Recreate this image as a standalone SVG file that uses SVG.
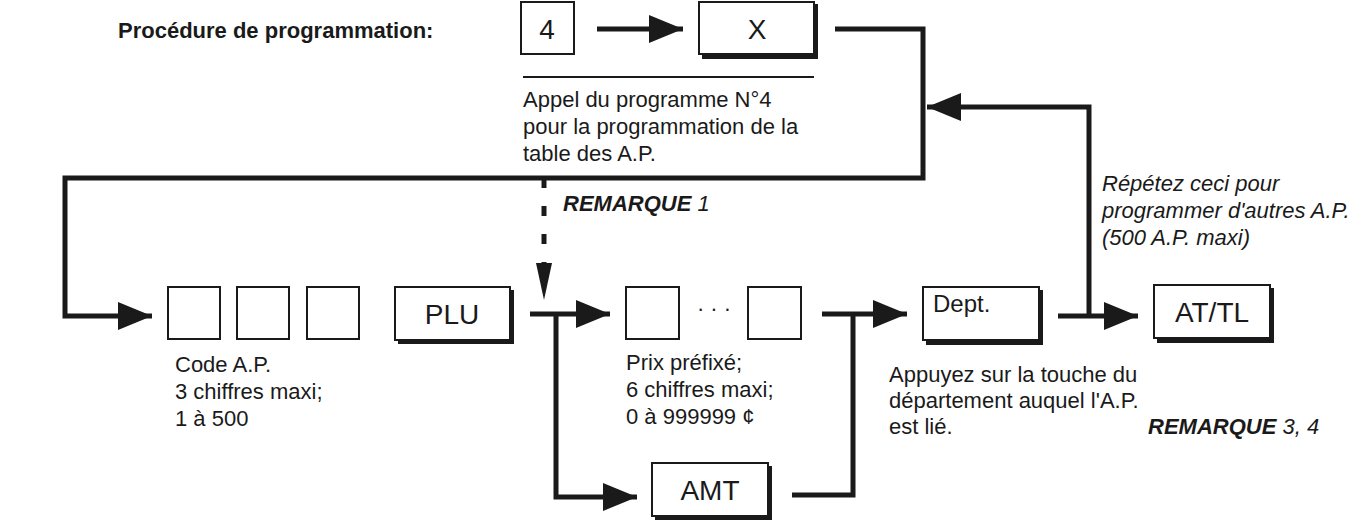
<svg xmlns="http://www.w3.org/2000/svg" width="1356" height="523" viewBox="0 0 1356 523">
<style>
text{font-family:"Liberation Sans",Arial,sans-serif;fill:#1a1a1a}
.t{font-size:22px}
.it{font-size:22px;font-style:italic}
.bi{font-size:22px;font-style:italic;font-weight:bold}
.k{font-size:28px;text-anchor:middle}
.box{fill:#fff;stroke:#1a1a1a;stroke-width:2}
.sh{fill:none;stroke:#1a1a1a;stroke-width:4}
.ln{fill:none;stroke:#1a1a1a;stroke-width:5}
</style>
<defs>
<marker id="ah" markerUnits="userSpaceOnUse" markerWidth="36" markerHeight="28" refX="34" refY="14" orient="auto"><path d="M0,0 L34,14 L0,28 Z" fill="#1a1a1a"/></marker>
</defs>
<text x="118" y="38" style="font-size:22px;font-weight:bold">Procédure de programmation:</text>
<g id="connectors">
<path class="ln" d="M597,29 H683" marker-end="url(#ah)"/>
<path class="ln" d="M835,29 H923 V178 H65 V316 H152" marker-end="url(#ah)"/>
<line x1="523" y1="77" x2="814" y2="77" stroke="#1a1a1a" stroke-width="2"/>
<path d="M544,178 V263" fill="none" stroke="#1a1a1a" stroke-width="5" stroke-dasharray="10,18"/>
<path d="M536,263 L552,263 L544,300 Z" fill="#1a1a1a"/>
<path class="ln" d="M530,314 H610" marker-end="url(#ah)"/>
<path class="ln" d="M556,314 V497 H637" marker-end="url(#ah)"/>
<path class="ln" d="M792,495 H853 V314"/>
<path class="ln" d="M822,314 H907" marker-end="url(#ah)"/>
<path class="ln" d="M1058,316 H1138" marker-end="url(#ah)"/>
<path class="ln" d="M1089,316 V107 H927" marker-end="url(#ah)"/>
</g>
<g id="k4"><rect class="box" x="521" y="2" width="53" height="52"/><text class="k" x="547" y="39">4</text></g>
<g id="kX"><path class="sh" d="M702,57 H816 V4"/><rect class="box" x="699" y="2" width="115" height="52"/><text class="k" x="757" y="39">X</text></g>
<text class="t" x="523" y="107">Appel du programme N°4</text>
<text class="t" x="523" y="134">pour la programmation de la</text>
<text class="t" x="523" y="161">table des A.P.</text>
<text class="bi" x="563" y="211">REMARQUE <tspan style="font-weight:normal"> 1</tspan></text>
<g id="code">
<rect class="box" x="168" y="287" width="52" height="52"/>
<rect class="box" x="237" y="287" width="52" height="52"/>
<rect class="box" x="307" y="287" width="52" height="52"/>
<text class="t" x="175" y="372">Code A.P.</text>
<text class="t" x="175" y="399">3 chiffres maxi;</text>
<text class="t" x="175" y="426">1 à 500</text>
</g>
<g id="kPLU"><path class="sh" d="M398,342 H512 V290"/><rect class="box" x="395" y="287" width="115" height="53"/><text class="k" x="452" y="324">PLU</text></g>
<g id="price">
<rect class="box" x="626" y="287" width="53" height="52"/>
<rect class="box" x="748" y="287" width="53" height="52"/>
<text class="t" x="714" y="316" text-anchor="middle">· · ·</text>
<text class="t" x="626" y="370">Prix préfixé;</text>
<text class="t" x="626" y="397">6 chiffres maxi;</text>
<text class="t" x="626" y="424">0 à 999999 ¢</text>
</g>
<g id="kAMT"><path class="sh" d="M655,518 H770 V466"/><rect class="box" x="652" y="463" width="116" height="53"/><text class="k" x="710" y="500">AMT</text></g>
<g id="kDept"><path class="sh" d="M926,343 H1041 V290"/><rect class="box" x="923" y="287" width="116" height="53"/><text class="t" x="933" y="312" style="font-size:24px">Dept.</text></g>
<text class="t" x="889" y="382">Appuyez sur la touche du</text>
<text class="t" x="889" y="408">département auquel l'A.P.</text>
<text class="t" x="889" y="434">est lié.</text>
<g id="kATTL"><path class="sh" d="M1157,341 H1272 V288"/><rect class="box" x="1154" y="285" width="116" height="53"/><text class="k" x="1212" y="322">AT/TL</text></g>
<text class="it" x="1102" y="191">Répétez ceci pour</text>
<text class="it" x="1102" y="218">programmer d'autres A.P.</text>
<text class="it" x="1102" y="245">(500 A.P. maxi)</text>
<text class="bi" x="1148" y="434">REMARQUE <tspan style="font-weight:normal"> 3, 4</tspan></text>
</svg>
